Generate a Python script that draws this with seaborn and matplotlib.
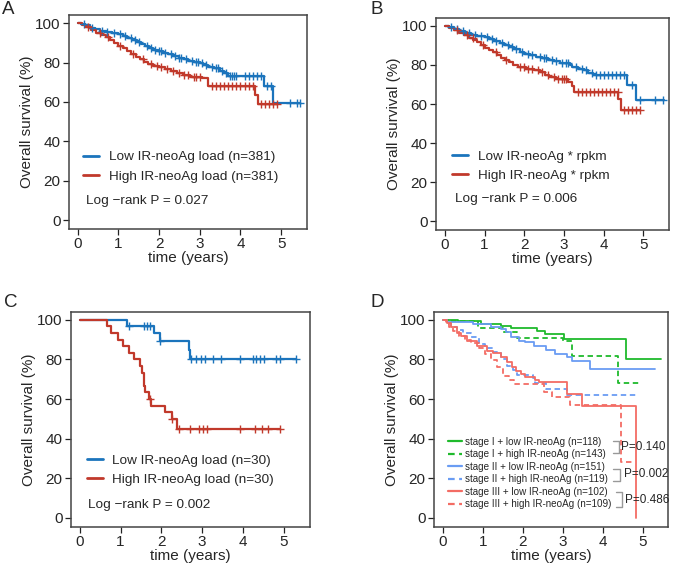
import numpy as np
import pandas as pd
import matplotlib
matplotlib.use("Agg")
import matplotlib.pyplot as plt
import seaborn as sns

sns.set_style("ticks")
plt.rcParams["font.family"] = ["Liberation Sans", "DejaVu Sans"]
plt.rcParams["axes.unicode_minus"] = True

# ---- Panel A: IR-neoAg load (n=381 each) ----
a_low_t = [0, 0.08, 0.18, 0.30, 0.42, 0.55, 0.70, 0.85, 0.98, 1.10, 1.22, 1.33, 1.45, 1.55, 1.65, 1.75, 1.86, 1.97,
           2.10, 2.22, 2.35, 2.48, 2.60, 2.72, 2.85, 3.00, 3.08, 3.20, 3.35, 3.50, 3.60, 3.70, 4.57, 4.80, 5.47]
a_low_s = [100, 99.5, 98.8, 97.6, 96.8, 96.2, 95.6, 95.0, 94.5, 93.6, 92.6, 91.5, 90.4, 89.3, 88.2, 87.4, 86.5, 85.7,
           85.0, 84.2, 83.4, 82.5, 81.6, 80.9, 80.4, 79.8, 78.6, 77.8, 77.0, 75.8, 74.6, 73.4, 68.2, 59.5, 59.5]
a_low_cens = [0.15, 0.35, 0.60, 0.72, 0.90, 1.05, 1.15, 1.30, 1.40, 1.50, 1.70, 1.80, 1.90, 2.00, 2.05, 2.15, 2.30,
              2.40, 2.50, 2.55, 2.65, 2.80, 2.90, 2.95, 3.05, 3.15, 3.30, 3.40, 3.45, 3.55, 3.65, 3.75, 3.80, 3.85,
              3.90, 4.10, 4.20, 4.30, 4.40, 4.50, 4.65, 4.75, 5.22, 5.38, 5.47]
a_high_t = [0, 0.10, 0.20, 0.32, 0.45, 0.58, 0.70, 0.80, 0.90, 1.00, 1.10, 1.20, 1.30, 1.42, 1.52, 1.62, 1.72, 1.85,
            2.00, 2.15, 2.30, 2.45, 2.58, 2.75, 3.05, 3.20, 4.35, 4.42, 4.91]
a_high_s = [100, 98.8, 97.8, 96.6, 95.2, 94.0, 92.8, 91.5, 90.0, 88.6, 87.2, 85.8, 84.5, 83.0, 81.7, 80.3, 79.2, 78.3,
            77.6, 76.8, 75.8, 74.6, 73.6, 72.8, 72.0, 68.3, 63.5, 58.9, 58.9]
a_high_cens = [0.25, 0.55, 0.75, 1.05, 1.35, 1.60, 1.80, 1.95, 2.05, 2.20, 2.35, 2.50, 2.60, 2.70, 2.85, 2.90, 3.00,
               3.30, 3.40, 3.50, 3.60, 3.70, 3.80, 3.90, 4.00, 4.10, 4.20, 4.30, 4.50, 4.60, 4.70, 4.80, 4.91]

# ---- Panel B: IR-neoAg * rpkm ----
b_low_t = [0, 0.10, 0.22, 0.35, 0.50, 0.65, 0.82, 1.00, 1.12, 1.25, 1.38, 1.50, 1.62, 1.75, 1.88, 2.00,
           2.15, 2.30, 2.45, 2.60, 2.75, 2.90, 3.15, 3.20, 3.35, 3.50, 3.60, 3.72, 4.58, 4.82, 5.51]
b_low_s = [100, 99.4, 98.5, 97.2, 96.2, 95.5, 94.8, 94.1, 93.4, 92.4, 91.3, 90.2, 89.2, 88.0, 86.8, 85.8,
           85.0, 84.2, 83.4, 82.6, 81.8, 81.2, 80.2, 78.8, 78.0, 77.2, 76.0, 74.7, 69.6, 62.0, 62.0]
b_low_cens = [0.15, 0.30, 0.45, 0.60, 0.75, 0.90, 1.05, 1.20, 1.30, 1.45, 1.60, 1.70, 1.80, 1.95, 2.10, 2.20, 2.40,
              2.50, 2.55, 2.70, 2.80, 2.95, 3.05, 3.10, 3.30, 3.45, 3.55, 3.70, 3.80, 3.90, 4.00, 4.10, 4.20, 4.30,
              4.40, 4.50, 4.70, 4.90, 5.30, 5.50]
b_high_t = [0, 0.10, 0.22, 0.35, 0.48, 0.62, 0.72, 0.82, 0.92, 1.02, 1.12, 1.22, 1.32, 1.42, 1.52, 1.62, 1.72, 1.85,
            2.05, 2.25, 2.40, 2.52, 2.62, 2.80, 3.10, 3.20, 3.25, 4.37, 4.44, 4.92]
b_high_s = [100, 99.0, 97.8, 96.4, 95.2, 94.0, 92.8, 91.6, 90.2, 88.8, 87.6, 86.4, 85.2, 83.8, 82.6, 81.4, 80.0, 78.8,
            78.0, 77.2, 76.2, 75.0, 73.8, 72.8, 71.5, 69.2, 66.4, 62.6, 57.1, 57.1]
b_high_cens = [0.30, 0.55, 0.70, 0.95, 1.30, 1.55, 1.90, 2.00, 2.10, 2.20, 2.35, 2.45, 2.60, 2.75, 2.85, 2.95, 3.00,
               3.05, 3.35, 3.45, 3.55, 3.65, 3.75, 3.85, 3.95, 4.05, 4.15, 4.25, 4.35, 4.50, 4.60, 4.70, 4.80, 4.92]

# ---- Panel C: IR-neoAg load (n=30 each) ----
c_low_t = [0, 1.16, 1.81, 1.97, 2.67, 2.70, 5.29]
c_low_s = [100, 96.7, 93.1, 89.2, 84.6, 80.1, 80.1]
c_low_cens = [1.21, 1.58, 1.64, 1.71, 1.97, 2.72, 2.86, 2.98, 3.07, 3.27, 3.45, 3.93, 4.25, 4.33, 4.41, 4.52,
              4.81, 4.90, 5.29]
c_high_t = [0, 0.66, 0.77, 0.93, 1.06, 1.20, 1.33, 1.47, 1.53, 1.57, 1.61, 1.70, 1.74, 2.10, 2.27, 2.38, 4.92]
c_high_s = [100, 96.7, 93.3, 90.0, 86.7, 83.3, 80.0, 76.7, 73.3, 66.7, 63.3, 60.0, 56.7, 53.3, 49.8, 44.9, 44.9]
c_high_cens = [1.73, 2.27, 2.43, 2.71, 2.91, 3.03, 3.13, 3.93, 4.30, 4.47, 4.62, 4.92]

# ---- Panel D: stage x IR-neoAg ----
d_s1_low_t = [0, 0.37, 0.95, 1.45, 1.70, 2.36, 2.56, 3.02, 4.59, 5.45]
d_s1_low_s = [100, 99.2, 98.1, 97.0, 96.1, 94.4, 92.7, 90.2, 80.0, 80.0]
d_s1_high_t = [0, 0.12, 0.87, 1.50, 1.86, 3.00, 3.22, 4.38, 4.90]
d_s1_high_s = [100, 99.3, 95.8, 94.0, 91.0, 89.5, 81.6, 68.0, 68.0]
d_s2_low_t = [0, 0.10, 0.75, 1.20, 1.45, 1.58, 1.70, 1.90, 2.06, 2.28, 2.57, 2.81, 3.10, 3.22, 3.68, 5.30]
d_s2_low_s = [100, 98.8, 98.0, 96.6, 95.4, 93.7, 91.5, 89.5, 88.6, 87.0, 84.8, 82.7, 81.0, 79.3, 75.0, 75.0]
d_s2_high_t = [0, 0.10, 0.20, 0.35, 0.50, 0.70, 0.90, 1.05, 1.25, 1.45, 1.60, 1.75, 1.85, 2.25, 2.30, 2.58, 3.10, 4.88]
d_s2_high_s = [100, 98.5, 96.6, 94.9, 93.2, 91.5, 88.0, 86.0, 83.5, 80.0, 76.5, 74.5, 72.3, 70.6, 68.1, 65.3, 62.1, 62.1]
d_s3_low_t = [0, 0.10, 0.20, 0.35, 0.45, 0.60, 0.85, 1.10, 1.25, 1.45, 1.60, 1.72, 1.82, 1.95, 2.06, 2.30, 2.40,
              3.10, 3.47, 4.84]
d_s3_low_s = [100, 98.5, 96.3, 93.5, 92.0, 89.5, 87.0, 84.5, 83.0, 81.0, 78.5, 76.0, 74.3, 72.5, 70.9, 69.4, 68.4,
              62.4, 56.5, 0]
d_s3_high_t = [0, 0.08, 0.15, 0.25, 0.40, 0.55, 0.70, 0.90, 1.05, 1.20, 1.35, 1.50, 1.65, 1.78, 2.52, 2.73, 3.19,
               4.45, 4.75]
d_s3_high_s = [100, 98.0, 96.2, 94.5, 92.0, 90.0, 88.5, 86.0, 82.5, 79.5, 76.0, 71.7, 69.5, 67.5, 63.8, 61.0, 57.0,
               28.3, 28.3]

d_labels = ["stage I + low IR-neoAg (n=118)", "stage I + high IR-neoAg (n=143)",
            "stage II + low IR-neoAg (n=151)", "stage II + high IR-neoAg (n=119)",
            "stage III + low IR-neoAg (n=102)", "stage III + high IR-neoAg (n=109)"]
d_pvals = ["P=0.140", "P=0.002", "P=0.486"]

BLUE = "#1B74BC"
RED = "#C1392B"
GREEN = "#1FBA2C"
LBLUE = "#6A9CF3"
LRED = "#F36C64"
FRAME = "#444444"


def km_curve(ax, t, s, color, label, cens=None, lw=1.6, ls="-"):
    df = pd.DataFrame({"time": t, "surv": s})
    sns.lineplot(data=df, x="time", y="surv", ax=ax, color=color, lw=lw, linestyle=ls,
                 drawstyle="steps-post", estimator=None, sort=False, label=label)
    if cens is not None:
        idx = np.searchsorted(np.array(t), np.array(cens), side="right") - 1
        cdf = pd.DataFrame({"time": cens, "surv": np.array(s)[idx]})
        sns.scatterplot(data=cdf, x="time", y="surv", ax=ax, color=color, marker="+",
                        s=28, linewidth=1.0, legend=False, zorder=3)


def style_axes(ax):
    ax.set_xlim(-0.22, 5.64)
    ax.set_ylim(-4.5, 104)
    ax.set_xticks(range(0, 6))
    ax.set_yticks(range(0, 101, 20))
    ax.tick_params(axis="both", labelsize=11, length=4, width=0.9, color="#222222", pad=2)
    for sp in ax.spines.values():
        sp.set_visible(True)
        sp.set_color(FRAME)
        sp.set_linewidth(1.1)
    ax.set_xlabel("time (years)", fontsize=11, labelpad=0)
    ax.set_ylabel("Overall survival (%)", fontsize=11, labelpad=1)


def two_group_legend(ax, anchor, ptext, pxy):
    leg = ax.legend(loc="upper left", bbox_to_anchor=anchor, frameon=False, fontsize=9.7,
                    handlelength=1.2, handletextpad=0.7, labelspacing=0.5,
                    borderpad=0, borderaxespad=0)
    for h in leg.get_lines():
        h.set_linewidth(2)
    ax.text(pxy[0], pxy[1], ptext, transform=ax.transAxes, fontsize=9.7, va="center", ha="left")


fig = plt.figure(figsize=(6.75, 5.64), dpi=100)
axA = fig.add_axes([0.102, 0.594, 0.353, 0.379])
axB = fig.add_axes([0.646, 0.592, 0.345, 0.376])
axC = fig.add_axes([0.105, 0.066, 0.354, 0.381])
axD = fig.add_axes([0.643, 0.066, 0.347, 0.381])

# A
km_curve(axA, a_low_t, a_low_s, BLUE, "Low IR-neoAg load (n=381)", a_low_cens)
km_curve(axA, a_high_t, a_high_s, RED, "High IR-neoAg load (n=381)", a_high_cens)
style_axes(axA)
two_group_legend(axA, (0.059, 0.365), "Log \u2212rank P = 0.027", (0.072, 0.131))

# B
km_curve(axB, b_low_t, b_low_s, BLUE, "Low IR-neoAg * rpkm", b_low_cens)
km_curve(axB, b_high_t, b_high_s, RED, "High IR-neoAg * rpkm", b_high_cens)
style_axes(axB)
two_group_legend(axB, (0.069, 0.377), "Log \u2212rank P = 0.006", (0.082, 0.146))

# C
km_curve(axC, c_low_t, c_low_s, BLUE, "Low IR-neoAg load (n=30)", c_low_cens)
km_curve(axC, c_high_t, c_high_s, RED, "High IR-neoAg load (n=30)", c_high_cens)
style_axes(axC)
two_group_legend(axC, (0.067, 0.337), "Log \u2212rank P = 0.002", (0.071, 0.102))

# D
d_curves = [(d_s1_low_t, d_s1_low_s, GREEN, "-"), (d_s1_high_t, d_s1_high_s, GREEN, (0, (3, 2))),
            (d_s2_low_t, d_s2_low_s, LBLUE, "-"), (d_s2_high_t, d_s2_high_s, LBLUE, (0, (3, 2))),
            (d_s3_low_t, d_s3_low_s, LRED, "-"), (d_s3_high_t, d_s3_high_s, LRED, (0, (3, 2)))]
for (t, s, c, ls), lab in zip(d_curves, d_labels):
    km_curve(axD, t, s, c, lab, None, lw=1.3, ls=ls)
style_axes(axD)
legD = axD.legend(loc="upper left", bbox_to_anchor=(0.06, 0.42), frameon=False, fontsize=7.1,
                  handlelength=1.4, handletextpad=0.35, labelspacing=0.26, borderpad=0, borderaxespad=0)
for h in legD.get_lines():
    h.set_linewidth(1.6)

# brackets with p-values between stage pairs
brackets = [((0.762, 0.788), (0.397, 0.343), (0.800, 0.373)),
            ((0.762, 0.792), (0.268, 0.211), (0.812, 0.245)),
            ((0.778, 0.803), (0.160, 0.092), (0.816, 0.126))]
for ((x0, x1), (ytop, ybot), (tx, ty)), ptxt in zip(brackets, d_pvals):
    axD.plot([x0, x1, x1, x0], [ytop, ytop, ybot, ybot], transform=axD.transAxes,
             color="#999999", lw=1.0, clip_on=False)
    axD.text(tx, ty, ptxt, transform=axD.transAxes, fontsize=8.5, va="center", ha="left")

# panel letters
for x, y, letter in [(0.003, 0.998, "A"), (0.549, 0.998, "B"), (0.006, 0.478, "C"), (0.549, 0.478, "D")]:
    fig.text(x, y, letter, fontsize=13.5, va="top", ha="left")

plt.savefig("out.png", dpi=100)
